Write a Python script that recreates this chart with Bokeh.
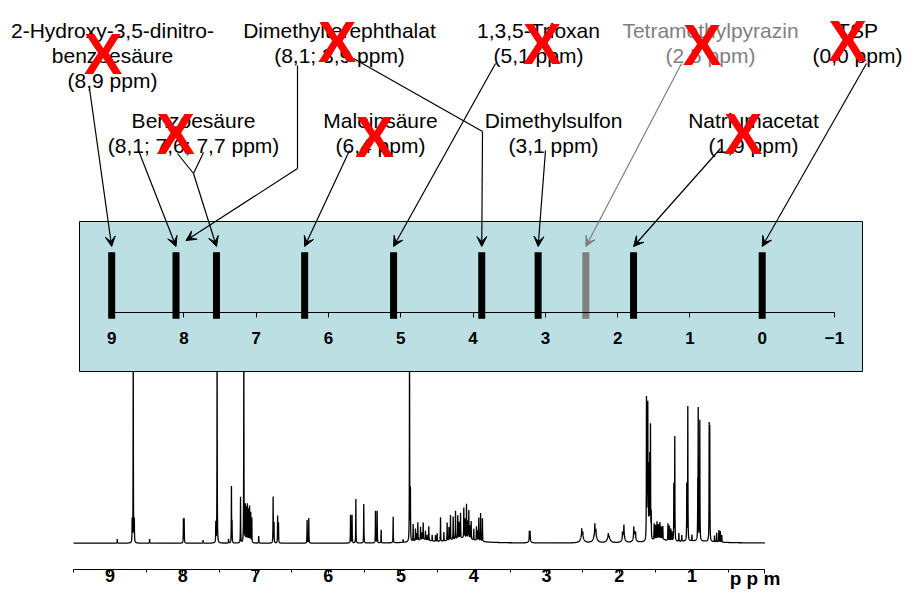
import numpy as np
from bokeh.plotting import figure
from bokeh.models import Range1d, LinearAxis, FixedTicker, Arrow, VeeHead, ColumnDataSource
from bokeh.core.properties import value
from bokeh.embed import file_html
from bokeh.resources import INLINE

# ---------------------------------------------------------------- data
# reference substances and the shift (ppm) at which each marker bar is drawn
ref_names = ["2-Hydroxy-3,5-dinitrobenzoesäure", "Benzoesäure", "Benzoesäure",
             "Maleinsäure", "1,3,5-Trioxan", "Dimethylterephthalat",
             "Dimethylsulfon", "Tetramethylpyrazin", "Natriumacetat", "TSP"]
ref_ppm = [9.00, 8.11, 7.55, 6.33, 5.10, 3.88, 3.10, 2.44, 1.78, 0.00]

# label lines above the scale
label_text = ["2-Hydroxy-3,5-dinitro-", "benzoesäure", "(8,9 ppm)",
              "Dimethylterephthalat", "(8,1; 3,9 ppm)",
              "1,3,5-Trioxan", "(5,1 ppm)",
              "Tetramethylpyrazin", "(2,5 ppm)",
              "TSP", "(0,0 ppm)",
              "Benzoesäure", "(8,1; 7,6; 7,7 ppm)",
              "Maleinsäure", "(6,4 ppm)",
              "Dimethylsulfon", "(3,1 ppm)",
              "Natriumacetat", "(1,9 ppm)"]

box_ticks = [9, 8, 7, 6, 5, 4, 3, 2, 1, 0, -1]
spec_ticks = [9, 8, 7, 6, 5, 4, 3, 2, 1, 0]
spec_minor = [9.5, 8.5, 7.5, 6.5, 5.5, 4.5, 3.5, 2.5, 1.5, 0.5]

# 1H spectrum: sharp lines (ppm, height in px above baseline)
line_ppm = [8.900, 8.695, 8.680, 8.665, 8.455, 7.990, 7.980, 7.720, 7.545, 7.527,
            7.370, 7.330, 7.322, 7.205, 7.160, 7.140, 7.125, 7.110, 7.095, 7.080,
            7.065, 7.050, 6.955, 6.757, 6.745, 6.695, 6.683, 6.290, 6.267, 5.693,
            5.672, 5.620, 5.511, 5.350, 5.327, 5.272, 5.107, 4.970, 4.882, 4.870,
            4.832, 4.800, 4.785, 4.768, 4.731, 4.710, 4.694, 4.663, 4.640, 4.617,
            4.571, 4.525, 4.502, 4.456, 4.410, 4.365, 4.340, 4.319, 4.282, 4.250,
            4.219, 4.200, 4.181, 4.136, 4.120, 4.099, 4.080, 4.067, 4.050, 4.035,
            3.999, 3.962, 3.945, 3.930, 3.905, 3.880,
            3.235, 3.225, 2.515, 2.500, 2.335, 2.320, 2.150, 1.955, 1.935, 1.800,
            1.775, 1.625, 1.615, 1.607, 1.600, 1.590, 1.580, 1.570, 1.560, 1.520,
            1.500, 1.480, 1.460, 1.440, 1.420, 1.400, 1.330, 1.310, 1.290, 1.275,
            1.249, 1.236, 1.180, 1.140, 1.071, 1.057, 1.000, 0.920, 0.914, 0.892,
            0.763, 0.755, 0.690, 0.660, 0.630, 0.610, 0.590]
line_height = [4, 22, 200, 22, 4, 24, 24, 3, 20, 200,
               4, 56, 20, 46, 200, 37, 35, 38, 33, 36,
               30, 25, 7, 46, 20, 27, 20, 23, 25, 28,
               28, 44, 39, 32, 32, 13, 26, 3, 200, 50,
               17, 12, 7, 18, 13, 7, 17, 9, 5, 14,
               6, 6, 8, 24, 9, 18, 13, 25, 23, 28,
               23, 16, 25, 30, 19, 34, 17, 28, 13, 18,
               11, 14, 10, 23, 28, 23,
               9, 9, 6, 4, 9, 5, 3, 6, 9, 9,
               6, 140, 80, 128, 60, 70, 80, 112, 25, 16,
               14, 17, 14, 16, 12, 13, 17, 15, 12, 9,
               56, 104, 8, 6, 56, 134, 6, 50, 128, 120,
               113, 110, 6, 9, 12, 11, 7]
# broad components of the spectrum (ppm, height px, half width ppm)
hump_ppm = [4.70, 4.15, 3.230, 2.510, 2.330, 2.145, 1.940, 1.790, 1.450, 0.950]
hump_height = [3, 5, 3, 9, 11, 7, 10, 10, 4, 2]
hump_width = [0.12, 0.18, 0.015, 0.02, 0.02, 0.02, 0.015, 0.015, 0.10, 0.30]

# ---------------------------------------------------------------- layout
W, H = 912, 600
FONT = "Liberation Sans"
SPEC_PX0, SPEC_SCALE = 764.2, 72.75   # page x of 0 ppm, px per ppm (spectrum)
BOX_PX0, BOX_SCALE = 761.7, 72.28     # page x of 0 ppm, px per ppm (marker scale)
BASE_Y = 542.7                        # page y of spectrum baseline
LINE_HW = 0.002


def box_px(ppm):
    return BOX_PX0 - BOX_SCALE * ppm


p = figure(width=W, height=H, output_backend="svg", toolbar_location=None,
           x_range=Range1d(0, W), y_range=Range1d(H, 0),
           x_axis_type=None, y_axis_type=None, min_border=0,
           outline_line_color=None, background_fill_color="white",
           border_fill_color="white")
p.extra_x_ranges = {
    "spec": Range1d(SPEC_PX0 / SPEC_SCALE, (SPEC_PX0 - W) / SPEC_SCALE),
    "box": Range1d(BOX_PX0 / BOX_SCALE, (BOX_PX0 - W) / BOX_SCALE),
}
p.extra_y_ranges = {"int": Range1d(BASE_Y - H, BASE_Y)}

# ---------------------------------------------------------------- spectrum
grid = np.linspace(0.0, 9.5, 19001)
inten = np.zeros_like(grid)
for c, h in zip(line_ppm, line_height):
    inten += h * LINE_HW ** 2 / ((grid - c) ** 2 + LINE_HW ** 2)
for c, h, w in zip(hump_ppm, hump_height, hump_width):
    inten += h * w ** 2 / ((grid - c) ** 2 + w ** 2)
p.line(grid, inten, x_range_name="spec", y_range_name="int",
       line_color="black", line_width=1.3)

spec_axis = LinearAxis(x_range_name="spec", fixed_location=569,
                       ticker=FixedTicker(ticks=spec_ticks, minor_ticks=spec_minor),
                       bounds=(0, 9.5), major_tick_out=4, major_tick_in=0,
                       minor_tick_out=3, minor_tick_in=0, major_label_standoff=-5,
                       major_label_overrides={0: ""},
                       major_label_text_font=FONT, major_label_text_font_style="bold",
                       major_label_text_font_size="18px", major_label_text_color="black",
                       axis_line_color="black", major_tick_line_color="black",
                       minor_tick_line_color="black")
p.add_layout(spec_axis, "below")
p.text(x=[754.5], y=[578], text=["p p m"], text_font=value(FONT),
       text_font_style="bold", text_font_size="19px", text_align="center",
       text_baseline="middle", text_color="black")

# ---------------------------------------------------------------- marker box
p.quad(left=79, right=862, top=221, bottom=371, fill_color="#bcdfe3",
       line_color="black", line_width=1)
bar_colors = ["#7f7f7f" if n == "Tetramethylpyrazin" else "black" for n in ref_names]
p.segment(x0=ref_ppm, x1=ref_ppm, y0=[251.7] * len(ref_ppm), y1=[318.3] * len(ref_ppm),
          x_range_name="box", line_width=7, line_color=bar_colors, line_cap="butt")
box_axis = LinearAxis(x_range_name="box", fixed_location=311.7,
                      ticker=FixedTicker(ticks=box_ticks, minor_ticks=[]),
                      bounds=(-1, 9), major_tick_out=5, major_tick_in=0,
                      minor_tick_out=0, minor_tick_in=0, major_label_standoff=15,
                      major_label_text_font=FONT, major_label_text_font_style="bold",
                      major_label_text_font_size="17px", major_label_text_color="black",
                      axis_line_color="black", major_tick_line_color="black")
p.add_layout(box_axis, "below")

# ---------------------------------------------------------------- labels
label_x = [112, 112, 112, 339, 339, 538, 538, 710, 710, 857, 857,
           193, 193, 380, 380, 553, 553, 753, 753]
label_y = [30, 55, 80, 30, 55, 30, 55, 30, 55, 30, 55,
           120, 145, 120, 145, 120, 145, 120, 145]
label_color = ["#7f7f7f" if t in ("Tetramethylpyrazin", "(2,5 ppm)") else "black"
               for t in label_text]
p.text(x=label_x, y=label_y, text=label_text, text_color=label_color,
       text_font=value(FONT), text_font_size="21px", text_align="center",
       text_baseline="middle")

# leader lines and arrows
p.multi_line(xs=[[177, 193], [203, 193], [297, 297], [353, 482]],
             ys=[[153, 173], [152, 173], [65, 168], [58, 131]],
             line_color="black", line_width=1.2)
arrow_start_x = [89, 138, 193, 297, 482, 349, 495, 545, 681, 720, 866]
arrow_start_y = [88, 150, 173, 168, 131, 150, 63, 150, 63, 148, 63]
arrow_target = [0, 1, 2, 1, 5, 3, 4, 6, 7, 8, 9]
arrow_dx = [0, 0, 0, 10, 0, 0, 0, 0, 0, 0, 0]
arrow_end_y = [246, 246, 246, 240, 246, 246, 246, 246, 246, 246, 246]
for col in ("black", "#7f7f7f"):
    idx = [i for i, t in enumerate(arrow_target) if bar_colors[t] == col]
    src = ColumnDataSource(dict(
        x0=[arrow_start_x[i] for i in idx], y0=[arrow_start_y[i] for i in idx],
        x1=[box_px(ref_ppm[arrow_target[i]]) + arrow_dx[i] for i in idx],
        y1=[arrow_end_y[i] for i in idx]))
    p.add_layout(Arrow(x_start="x0", y_start="y0", x_end="x1", y_end="y1", source=src,
                       line_color=col, line_width=1.2,
                       end=VeeHead(size=10, fill_color=col, line_color=col)))

# red crosses
x_mark_x = [102.5, 336.7, 541.7, 701.7, 847, 175, 374, 742.5]
x_mark_y = [52.5, 40.8, 42.5, 44, 40, 133, 136, 132.5]
p.text(x=x_mark_x, y=x_mark_y, text=["X"] * len(x_mark_x), text_color="#ff0000",
       text_font=value(FONT), text_font_style="bold", text_font_size="58px",
       text_align="center", text_baseline="middle")

open("out.html", "w").write(file_html(p, INLINE))
